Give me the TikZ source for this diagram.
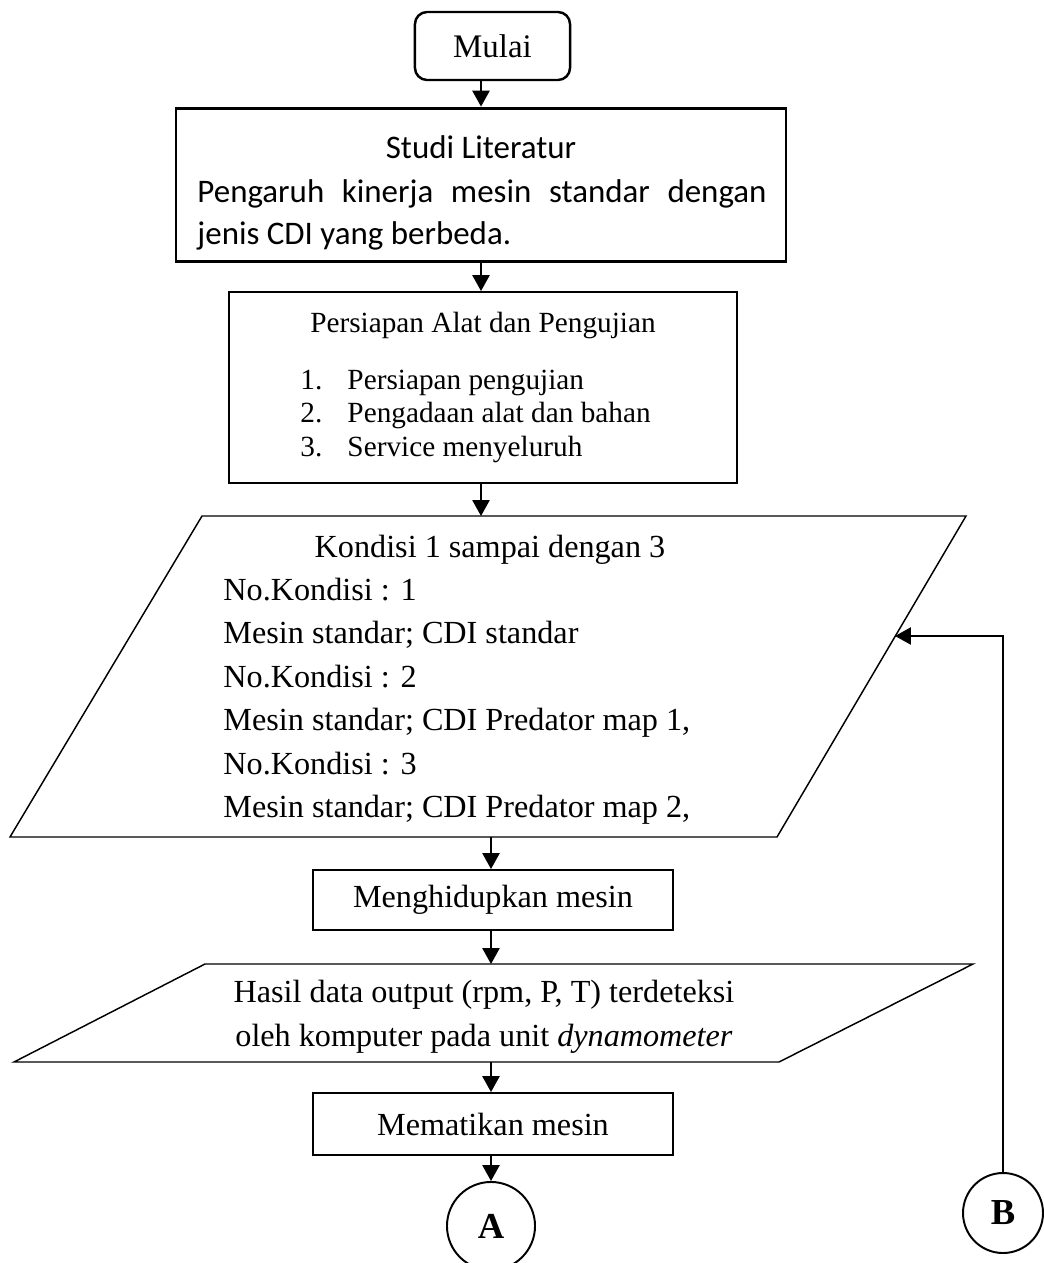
\documentclass[tikz,border=0pt]{standalone}
\usepackage{fontspec}
\setmainfont{Liberation Serif}
\newfontfamily\calibri{Carlito}
\usetikzlibrary{arrows.meta,positioning}

\begin{document}
\begin{tikzpicture}[x=0.41pt,y=-0.41pt,font=\fontsize{13.2}{16}\selectfont]

\tikzset{box/.style={draw, line width=0.8pt, inner sep=0pt},
flowarrow/.style={line width=0.8pt, -{Triangle[length=6.5pt,width=7pt]}},
konektor/.style={draw, circle, line width=0.8pt, inner sep=0pt, font=\fontsize{15}{17}\selectfont\bfseries},
baris/.style={anchor=base west, inner sep=0pt},
kecil/.style={font=\fontsize{12}{14}\selectfont},
studiteks/.style={font=\fontsize{13.5}{16}\selectfont\calibri}}

\useasboundingbox (0,0) rectangle (1044,1263);

% kotak proses
\node[box, rounded corners=5pt, line width=1pt, minimum width=63.6pt, minimum height=27.9pt, font=\fontsize{13.5}{16}\selectfont] (mulai) at (492.5,46) {Mulai};
\node[box, line width=1.2pt, minimum width=250.1pt, minimum height=63.1pt] (studi) at (481,185) {};
\node[box, minimum width=208.3pt, minimum height=78.3pt] (persiapan) at (483,387.5) {};
\node[box, minimum width=147.6pt, minimum height=24.6pt] (hidup) at (493,900) {Menghidupkan mesin};
\node[box, minimum width=147.6pt, minimum height=25.4pt] (mati) at (493,1124) {Mematikan mesin};

% konektor halaman
\node[konektor, minimum size=36.1pt] (A) at (491,1226) {A};
\node[konektor, minimum size=32.8pt] (B) at (1003,1213) {B};

% data masukan / keluaran
\draw[line width=0.6pt] (202,516) -- (966,516) -- (777,837) -- (10,837) -- cycle;
\draw[line width=0.6pt] (205,964) -- (973,964) -- (779,1062) -- (14,1062) -- cycle;
\coordinate (kondisi-atas) at (481,516);
\coordinate (kondisi-bawah) at (491,837);
\coordinate (kondisi-kanan) at (895,636);
\coordinate (hasil-atas) at (491,964);
\coordinate (hasil-bawah) at (491,1062);

% teks studi literatur
\node[studiteks, anchor=base, inner sep=0pt] (studi-judul) at (481,158) {Studi Literatur};
\node[studiteks, baris] (studi-isi1) at (197,202) {\makebox[233.3pt][s]{Pengaruh kinerja mesin standar dengan}};
\node[studiteks, baris] (studi-isi2) at (197,244) {jenis CDI yang berbeda.};

% teks persiapan
\node[kecil, anchor=base, inner sep=0pt] (persiapan-judul) at (483,332) {Persiapan Alat dan Pengujian};
\foreach \n/\y/\t in {1/389/Persiapan pengujian, 2/422/Pengadaan alat dan bahan, 3/456/Service menyeluruh}{
  \node[kecil, baris] (no-\n) at (300,\y) {\n.};
  \node[kecil, baris] (item-\n) at (347,\y) {\t};
}

% teks kondisi
\node[anchor=base, inner sep=0pt] (kondisi-judul) at (490,557) {Kondisi 1 sampai dengan 3};
\foreach \i/\y/\t in {1/600/No.Kondisi : 1, 2/643/Mesin standar; CDI standar, 3/687/No.Kondisi : 2, 4/730/{Mesin standar; CDI Predator map 1,}, 5/774/No.Kondisi : 3, 6/817/{Mesin standar; CDI Predator map 2,}}
  \node[baris] (kondisi-\i) at (223,\y) {\t};

% teks hasil
\node[anchor=base, inner sep=0pt] (hasil-1) at (484,1002) {Hasil data output (rpm, P, T) terdeteksi};
\node[anchor=base, inner sep=0pt] (hasil-2) at (484,1046) {oleh komputer pada unit \textit{dynamometer}};

% alur
\draw[flowarrow] (mulai.south -| studi.north) -- (studi.north);
\draw[flowarrow] (studi.south) -- (studi.south |- persiapan.north);
\draw[flowarrow] (studi.south |- persiapan.south) -- (kondisi-atas);
\draw[flowarrow] (kondisi-bawah) -- (kondisi-bawah |- hidup.north);
\draw[flowarrow] (kondisi-bawah |- hidup.south) -- (hasil-atas);
\draw[flowarrow] (hasil-bawah) -- (hasil-bawah |- mati.north);
\draw[flowarrow] (mati.south -| A.north) -- (A.north);
\draw[flowarrow] (B.north) |- (kondisi-kanan);

\end{tikzpicture}
\end{document}
